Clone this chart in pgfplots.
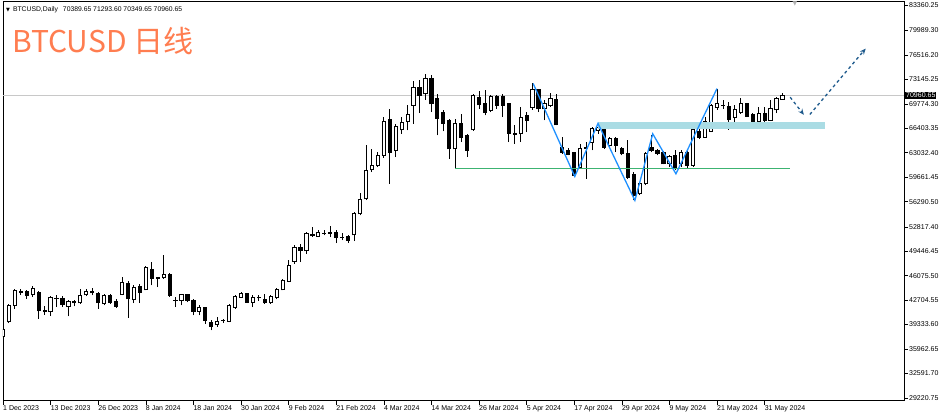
\documentclass[border=0pt]{standalone}
\usepackage{fontspec}
\setmainfont{Liberation Sans}
\newfontfamily\cjk{Noto Sans CJK SC}
\newfontfamily\dejavu{DejaVu Sans}
\usepackage{pgfplots}
\usepackage{pgfplotstable}
\pgfplotsset{compat=1.18}
\usetikzlibrary{arrows.meta}

\definecolor{titleorange}{RGB}{255,125,80}
\definecolor{zigblue}{RGB}{30,144,255}
\definecolor{supgreen}{RGB}{60,179,113}
\definecolor{bandblue}{RGB}{170,220,228}
\definecolor{arrblue}{RGB}{30,90,140}
\definecolor{pline}{RGB}{200,200,200}

% daily candles, bar index 0 = 1 Dec 2023 (weekdays only)
\pgfplotstableread{
i o h l c
0 37700 38950 37600 38700
1 39700 42200 39500 41950
2 41960 44200 41500 44030
3 43900 44250 43400 43750
4 43850 44100 42900 43300
5 43450 44700 43100 44250
6 43800 44000 40100 41200
7 41250 41950 40700 41100
8 41100 43300 40500 43100
9 42900 43350 41750 42950
10 43000 43300 41750 42100
11 41800 42700 40450 42500
12 42500 42750 41850 42350
13 42300 44250 42200 43350
14 43400 44250 43250 43900
15 43900 44400 43350 43700
16 43650 43800 41500 42300
17 42200 43570 41960 43400
18 43350 43570 42190 42350
19 42500 42900 41650 41850
20 43450 45870 43350 45100
21 45050 45400 40300 42880
22 42750 44720 42300 44480
23 44580 44950 42300 43800
24 44100 47350 44050 47150
25 46880 47950 44720 45650
26 45650 45950 44500 45800
27 45780 48950 45640 46240
28 46190 46420 43200 43340
29 42700 43200 41750 42650
30 42650 43570 41960 43430
31 43430 43570 42420 42650
32 42650 42880 40580 41130
33 41130 42050 40580 41640
34 41640 41820 39430 39900
35 39660 39890 38510 39060
36 39300 40350 39060 39800
37 39850 40070 39520 39900
38 39750 42190 39660 41960
39 41730 43340 41500 43200
40 43110 43800 43020 43570
41 43570 43700 42280 42420
42 42400 43340 41730 43100
43 43100 43400 42600 43000
44 42800 43480 42190 42300
45 42300 43340 42190 43200
46 43100 44400 42790 44120
47 44120 45640 44030 45410
48 45320 48170 45180 47480
49 48080 50240 47710 49920
50 50000 50380 47940 49550
51 49500 52080 49090 51850
52 51700 52770 51390 51550
53 51500 52400 51390 52080
54 51950 52310 51620 51900
55 51950 52910 51390 52000
56 52080 52400 50560 51300
57 51350 51940 50930 51400
58 51530 51620 50560 50930
59 51710 54840 50840 54610
60 54610 57460 54380 56590
61 56680 64040 56500 60590
62 60680 63580 60360 61280
63 61280 63120 61050 62660
64 62660 67950 62340 67400
65 67580 69100 58750 63120
66 63350 67030 62430 66660
67 66200 67950 65650 67260
68 67400 69560 66110 68320
69 69560 72920 67030 72090
70 72090 73010 68500 70940
71 71170 73840 70340 73240
72 73330 73700 68640 69790
73 70480 71170 65420 67810
74 68640 68900 66000 67120
75 67490 67720 62200 63580
76 63580 67720 60820 67030
77 67120 68410 64500 65190
78 65420 65650 62520 63350
79 66200 71200 66100 70940
80 70620 71540 69100 69650
81 69880 71630 68180 68640
82 68870 71000 68600 70800
83 70800 71050 69100 69560
84 70800 71100 67950 69560
85 69790 69790 64500 65740
86 65700 66800 64270 65600
87 65650 69330 64500 67860
88 68180 68640 65880 67490
89 69330 72600 68960 71720
90 71720 71800 68640 69100
91 69100 70250 67490 69790
92 69560 71260 69330 70480
93 70340 71170 66800 66890
94 63810 65190 62890 63120
95 63350 63700 62660 62800
96 63120 63210 59670 59900
97 61050 64180 60820 63580
98 63650 64500 59440 63750
99 64500 66660 63350 66340
100 66110 67030 65650 66570
101 66480 66660 63580 63810
102 64040 65190 63810 64960
103 64960 65190 63120 64040
104 63580 63810 62660 62890
105 62890 64730 59440 59670
106 60040 60360 56450 57140
107 57370 58980 57140 58750
108 58750 63120 58520 62890
109 63720 65420 63120 63350
110 63350 63580 62660 62980
111 63120 63260 61420 61510
112 61510 62660 61050 62520
113 62660 63440 60590 60820
114 61510 63350 61050 63120
115 63120 63350 60960 61280
116 61280 66570 61050 66200
117 65970 66570 64960 65190
118 65190 67950 65100 67400
119 66020 69790 65880 69560
120 69330 71860 68960 69790
121 69600 70250 69100 69520
122 69420 70020 66200 67580
123 67950 69560 66570 68960
124 68640 70570 68410 69790
125 69790 69790 67950 68090
126 68270 68500 67030 67170
127 67400 69330 67260 68410
128 68500 69330 66570 67490
129 67490 70340 67400 69100
130 68960 70710 68500 70480
131 70389.65 71293.6 70349.65 70960.65
}\candles

\begin{document}
\begin{tikzpicture}
\path[use as bounding box] (-3pt,-15pt) rectangle (941pt,400.5pt);
\begin{axis}[
  scale only axis, width=901pt, height=399pt,
  xmin=0, xmax=151.43, ymin=28848, ymax=83912,
  scaled y ticks=false, scaled x ticks=false,
  axis line style={black, line width=0.8pt},
  tick align=outside, major tick length=4pt,
  tick style={black, line width=0.6pt},
  xtick pos=bottom, ytick pos=right, yticklabel pos=right,
  xtick={0,8,...,128},
  xticklabels={1 Dec 2023,13 Dec 2023,26 Dec 2023,8 Jan 2024,18 Jan 2024,30 Jan 2024,9 Feb 2024,21 Feb 2024,4 Mar 2024,14 Mar 2024,26 Mar 2024,5 Apr 2024,17 Apr 2024,29 Apr 2024,9 May 2024,21 May 2024,31 May 2024},
  ytick={83360.25,79989.30,76516.20,73145.25,69774.30,66403.35,63032.40,59661.45,56290.50,52817.40,49446.45,46075.50,42704.55,39333.60,35962.65,32591.70,29220.75},
  yticklabels={83360.25,79989.30,76516.20,73145.25,69774.30,66403.35,63032.40,59661.45,56290.50,52817.40,49446.45,46075.50,42704.55,39333.60,35962.65,32591.70,29220.75},
  tick label style={font=\fontsize{7}{8}\selectfont},
  xticklabel style={anchor=north west, inner sep=0pt, yshift=-1pt},
  yticklabel style={anchor=west, inner sep=0pt, xshift=1pt},
]
% bid line
\addplot[color=pline, line width=0.8pt] coordinates {(0,70960.65) (151.43,70960.65)};
% wicks
\addplot[draw=none, mark=none, error bars/.cd, y dir=plus, y explicit, error mark=none,
  error bar style={draw=black, line width=0.9pt}]
  table[x=i, y=l, y error expr=\thisrow{h}-\thisrow{l}] {\candles};
% bodies
\addplot[draw=none, mark=none, error bars/.cd, y dir=plus, y explicit, error mark=none,
  error bar style={draw=black, line width=4.2pt}]
  table[x=i, y expr={min(\thisrow{o},\thisrow{c})-60}, y error expr={abs(\thisrow{c}-\thisrow{o})+120}] {\candles};
% hollow up candles
\addplot[draw=none, mark=none, error bars/.cd, y dir=plus, y explicit, error mark=none,
  error bar style={draw=white, line width=2.2pt}]
  table[x=i, y expr={(\thisrow{c}-\thisrow{o}>280) ? \thisrow{o}+78 : nan}, y error expr={\thisrow{c}-\thisrow{o}-156}] {\candles};
% support / resistance
\addplot[color=supgreen, line width=1.3pt] coordinates {(76,60820) (132.3,60820)};
\addplot[color=bandblue, line width=6.6pt] coordinates {(100,66800) (138.2,66800)};
% zigzag
\addplot[color=zigblue, line width=1.3pt] coordinates {(89.1,72600) (96.1,59760) (100,67080) (106.2,56450) (109.2,65650) (113.1,60130) (120,71900)};
% projected path
\addplot[color=arrblue, dashed, line width=1.3pt, -{Stealth[length=6pt,width=5pt]}] coordinates {(132.3,70705) (134.6,68277)};
\addplot[color=arrblue, dashed, line width=1.3pt, -{Stealth[length=6pt,width=5pt]}] coordinates {(135.6,68318) (145,77426)};
\coordinate (pl) at (axis cs:151.43,70960.65);
\end{axis}
\node[anchor=west, fill=black, text=white, inner sep=1pt, font=\fontsize{7}{8}\selectfont] at ([xshift=1pt]pl) {70960.65};
\node[anchor=base west, inner sep=0pt, font=\fontsize{6.8}{8}\selectfont] at (3pt,388.5pt) {{\dejavu\fontsize{5}{6}\selectfont ▼}\hspace{3pt}BTCUSD,Daily\hspace{5pt}70389.65 71293.60 70349.65 70960.65};
\node[anchor=base west, inner sep=0pt, text=titleorange, font=\cjk\fontsize{30}{32}\selectfont] at (9pt,348pt) {BTCUSD 日线};
\node[anchor=north, inner sep=0pt, text=gray!60, font=\dejavu\fontsize{6}{6}\selectfont] at (792pt,399pt) {▼};
\end{tikzpicture}
\end{document}
